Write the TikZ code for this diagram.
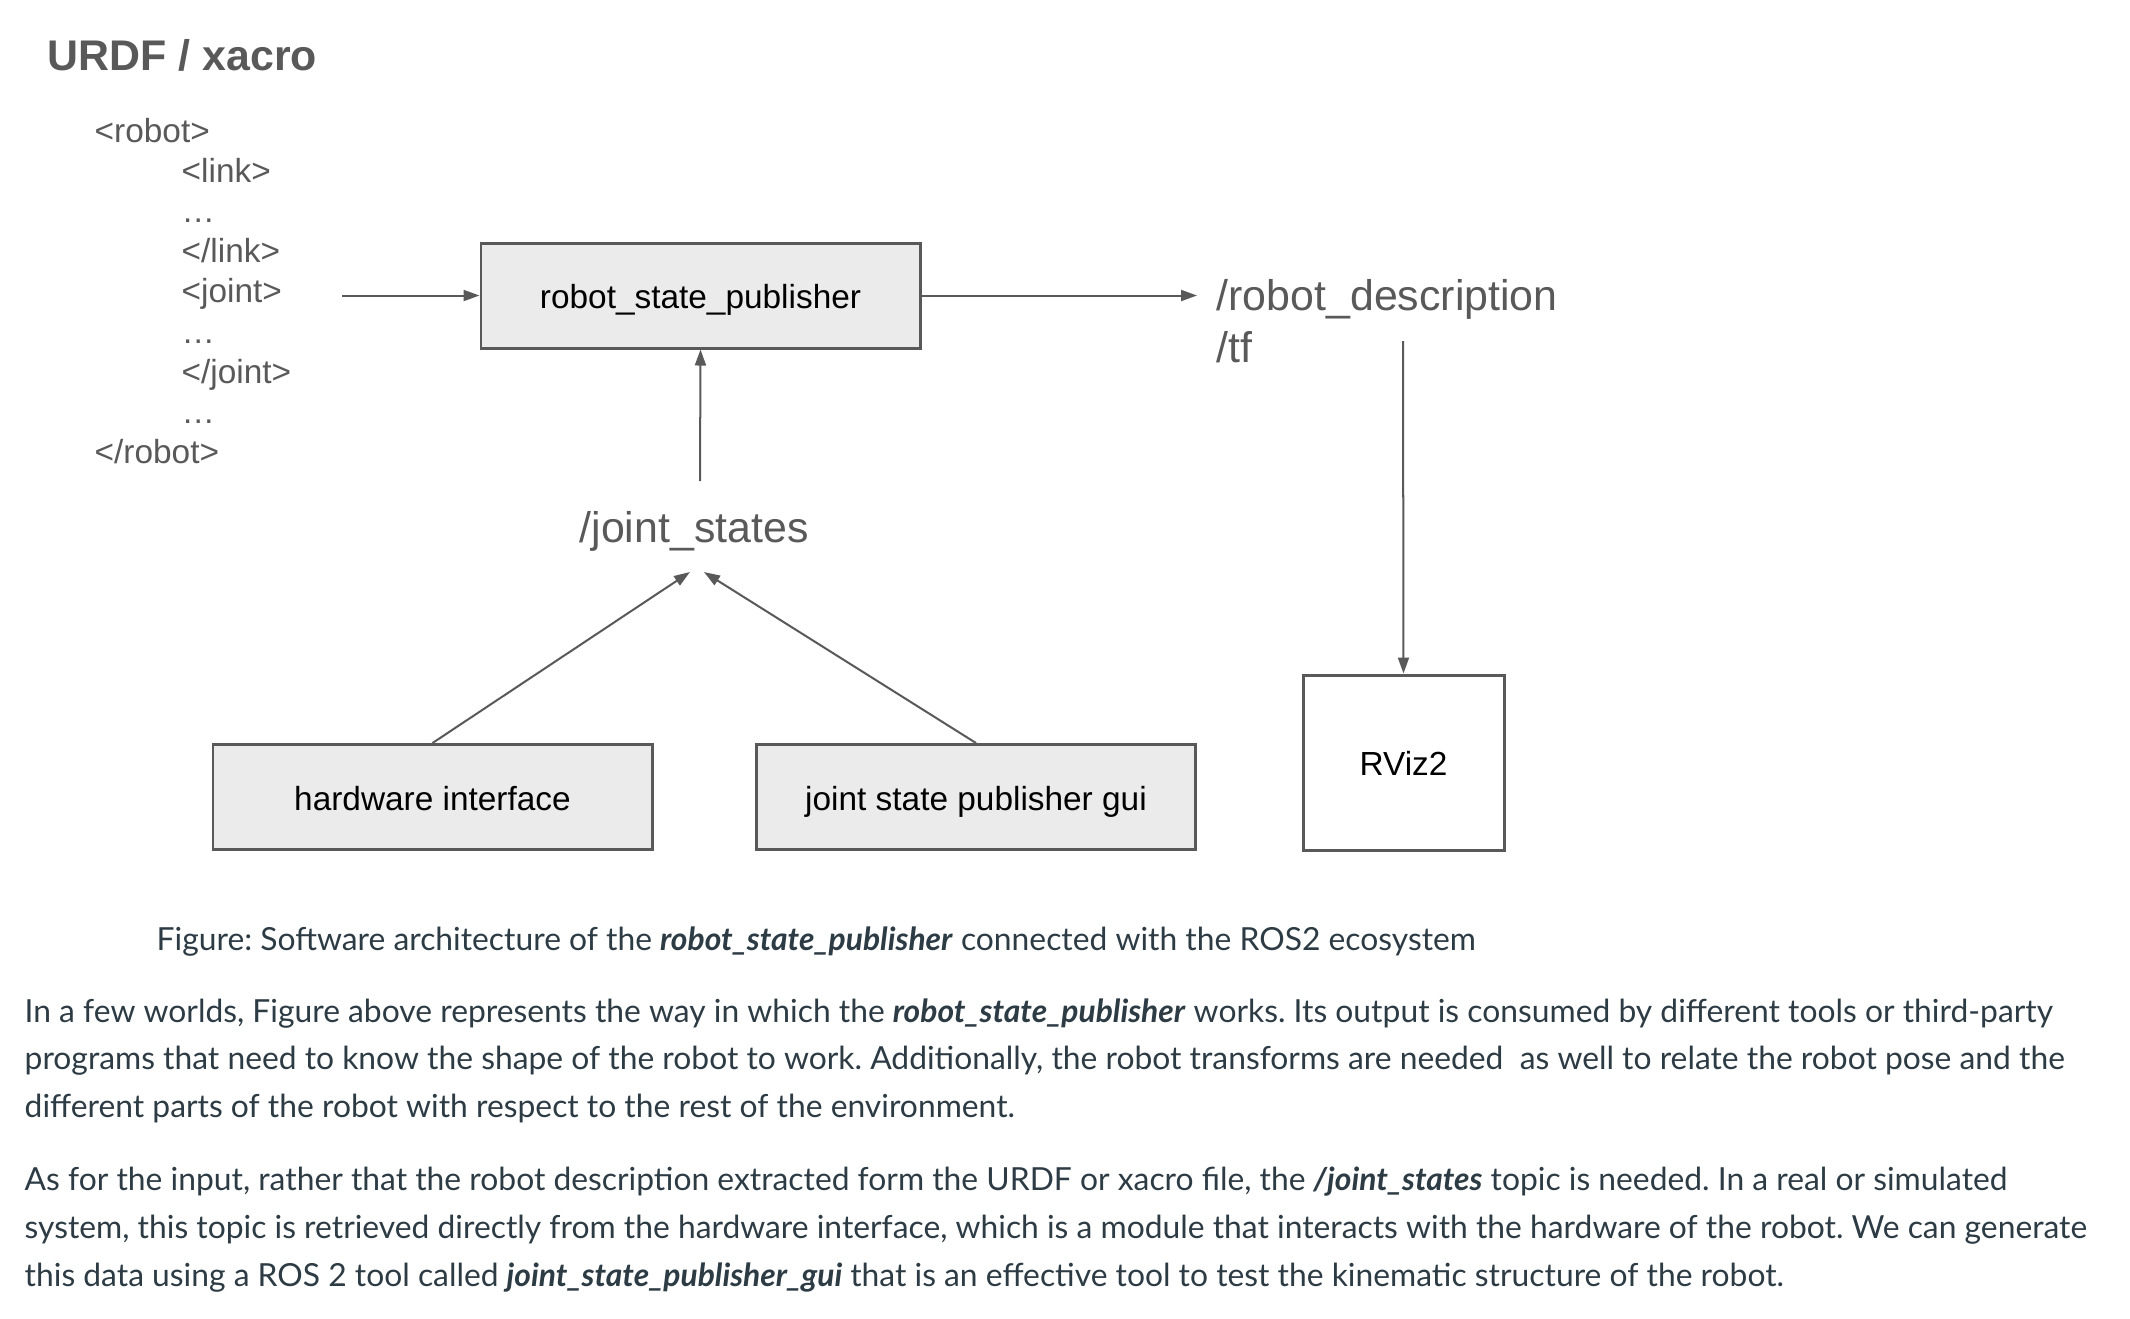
\documentclass[tikz,border=0pt]{standalone}
\usepackage{fontspec}
\setmainfont{Liberation Sans}
\newfontfamily\latofont{Lato}
\usetikzlibrary{arrows.meta}

\definecolor{linegray}{HTML}{595959}
\definecolor{boxfill}{HTML}{EBEBEB}
\definecolor{textslate}{HTML}{2D3B45}

\tikzset{
  block/.style={draw=linegray, line width=0.85pt, fill=boxfill, minimum width=4.39cm, minimum height=1.05cm, text height=0.95em, text depth=0.2em, font=\fontsize{9.5}{11}\selectfont},
  topic/.style={text=linegray, anchor=base west, inner sep=0pt, font=\fontsize{12.2}{14}\selectfont},
  xmlline/.style={text=linegray, anchor=base west, inner sep=0pt, font=\fontsize{9.5}{11}\selectfont},
  bodyline/.style={text=textslate, anchor=base west, inner sep=0pt, font=\latofont\fontsize{9.05}{11}\selectfont\frenchspacing},
  flow/.style={draw=linegray, line width=0.57pt, -{Triangle[length=0.16cm,width=0.11cm]}}
}

\begin{document}
\begin{tikzpicture}
  \useasboundingbox (0,0) rectangle (21.30,-13.18);

  % title and xml listing
  \node[text=linegray, anchor=base west, inner sep=0pt, font=\bfseries\fontsize{12.2}{14}\selectfont] (title) at (0.47,-0.70) {URDF / xacro};
  \node[xmlline] (robotopen) at (0.94,-1.42) {<robot>};
  \node[xmlline] (linkopen) at (1.81,-1.82) {<link>};
  \node[xmlline] (dotsa) at (1.81,-2.22) {…};
  \node[xmlline] (linkclose) at (1.81,-2.62) {</link>};
  \node[xmlline] (jointopen) at (1.81,-3.02) {<joint>};
  \node[xmlline] (dotsb) at (1.81,-3.43) {…};
  \node[xmlline] (jointclose) at (1.81,-3.83) {</joint>};
  \node[xmlline] (dotsc) at (1.81,-4.23) {…};
  \node[xmlline] (robotclose) at (0.94,-4.63) {</robot>};

  % blocks
  \node[block] (rsp) at (7.005,-2.955) {robot\_state\_publisher};
  \node[block] (hw) at (4.325,-7.97) {hardware interface};
  \node[block] (jsp) at (9.76,-7.97) {joint state publisher gui};
  \node[block, fill=white, minimum width=2.01cm, minimum height=1.75cm] (rviz) at (14.035,-7.625) {RViz2};

  % topics
  \node[topic] (rd) at (12.16,-3.10) {/robot\_description};
  \node[topic] (tf) at (12.16,-3.62) {/tf};
  \node[topic] (js) at (5.79,-5.42) {/joint\_states};

  \coordinate (xmlout) at (3.42,-2.955);
  \coordinate (jsup) at (7.00,-4.81);
  \coordinate (jsl) at (6.90,-5.72);
  \coordinate (jsr) at (7.04,-5.72);
  \coordinate (tfdown) at (14.03,-3.41);

  % connectors
  \draw[flow] (xmlout) -- (rsp.west);
  \draw[flow, shorten >=0.19cm] (rsp.east) -- (rsp.east -| rd.west);
  \draw[flow] (jsup) -- (rsp.south);
  \draw[flow] (hw.north) -- (jsl);
  \draw[flow] (jsp.north) -- (jsr);
  \draw[flow] (tfdown) -- (rviz.north);

  % caption and text
  \node[bodyline] (cap) at (1.56,-9.50) {Figure: Software architecture of the \textbf{\textit{robot\_state\_publisher}} connected with the ROS2 ecosystem};
  \node[bodyline] (pa) at (0.24,-10.22) {In a few worlds, Figure above represents the way in which the \textbf{\textit{robot\_state\_publisher}} works. Its output is consumed by different tools or third-party};
  \node[bodyline] (pb) at (0.24,-10.69) {programs that need to know the shape of the robot to work. Additionally, the robot transforms are needed~ as well to relate the robot pose and the};
  \node[bodyline] (pc) at (0.24,-11.17) {different parts of the robot with respect to the rest of the environment.};
  \node[bodyline] (qa) at (0.24,-11.90) {As for the input, rather that the robot description extracted form the URDF or xacro file, the \textbf{\textit{/joint\_states}} topic is needed. In a real or simulated};
  \node[bodyline] (qb) at (0.24,-12.38) {system, this topic is retrieved directly from the hardware interface, which is a module that interacts with the hardware of the robot. We can generate};
  \node[bodyline] (qc) at (0.24,-12.86) {this data using a ROS 2 tool called \textbf{\textit{joint\_state\_publisher\_gui}} that is an effective tool to test the kinematic structure of the robot.};
\end{tikzpicture}
\end{document}
